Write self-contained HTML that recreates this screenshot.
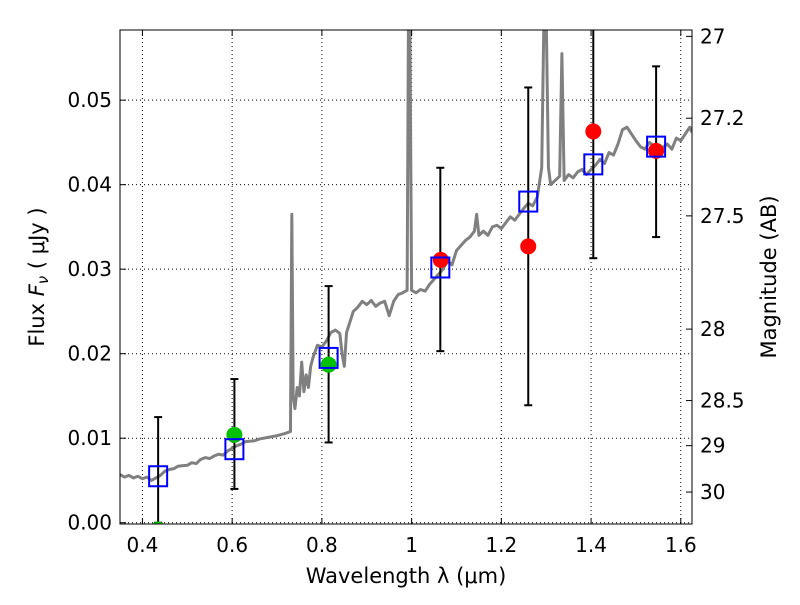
<!DOCTYPE html>
<html><head><meta charset="utf-8"><style>
body{margin:0;background:#fff;}
svg text{font-family:"DejaVu Sans","Liberation Sans",sans-serif;fill:#000;}
</style></head><body>
<svg id="chart" width="800" height="600" xmlns="http://www.w3.org/2000/svg">
<g id="grid"></g>
<g id="plot"></g>
<rect x="120" y="30" width="572" height="494" fill="none" stroke="#000" stroke-width="1"/>
<g id="axes"></g>
<text x="406" y="583" font-size="21" text-anchor="middle">Wavelength  λ (μm)</text>
<text transform="translate(44,277) rotate(-90)" font-size="21" text-anchor="middle">Flux  <tspan font-style="italic">F</tspan><tspan font-style="italic" font-size="15" dy="4">ν</tspan><tspan dy="-4">  ( μJy )</tspan></text>
<text transform="translate(776,277) rotate(-90)" font-size="21" text-anchor="middle">Magnitude (AB)</text>
</svg>
<script>
const specX=[0.35,0.36,0.37,0.38,0.39,0.40,0.41,0.42,0.43,0.44,0.45,0.46,0.47,0.48,0.5,0.51,0.52,0.53,0.54,0.55,0.56,0.57,0.58,0.59,0.6,0.61,0.62,0.63,0.65,0.66,0.68,0.7,0.72,0.73,0.733,0.736,0.74,0.745,0.75,0.755,0.76,0.765,0.77,0.775,0.78,0.79,0.8,0.81,0.82,0.83,0.84,0.845,0.85,0.855,0.87,0.88,0.89,0.9,0.91,0.92,0.93,0.94,0.95,0.96,0.97,0.98,0.99,0.993,0.996,1.0,1.01,1.02,1.03,1.04,1.05,1.06,1.07,1.08,1.09,1.1,1.11,1.12,1.13,1.14,1.145,1.15,1.16,1.17,1.18,1.19,1.2,1.21,1.22,1.23,1.24,1.25,1.26,1.27,1.28,1.29,1.295,1.3,1.305,1.31,1.32,1.33,1.335,1.34,1.35,1.36,1.37,1.38,1.39,1.4,1.41,1.42,1.43,1.44,1.45,1.46,1.47,1.48,1.49,1.5,1.51,1.52,1.53,1.54,1.55,1.56,1.57,1.58,1.59,1.6,1.61,1.62,1.625];
const specY=[0.0057,0.0054,0.0056,0.0053,0.0055,0.0052,0.0054,0.0050,0.0053,0.0056,0.0061,0.0063,0.0064,0.0067,0.0068,0.0071,0.0070,0.0075,0.0077,0.0076,0.0079,0.0081,0.0080,0.0085,0.0088,0.0091,0.0093,0.0096,0.0097,0.0099,0.0101,0.0103,0.0106,0.0108,0.0365,0.0150,0.0135,0.0160,0.0150,0.0190,0.0155,0.0175,0.0160,0.0185,0.0195,0.0210,0.0208,0.0215,0.0225,0.0228,0.0224,0.0200,0.0185,0.0225,0.0250,0.0255,0.0262,0.0258,0.0263,0.0256,0.0260,0.0262,0.0245,0.0262,0.0270,0.0272,0.0275,0.0600,0.0600,0.0275,0.0272,0.0276,0.0274,0.0282,0.0288,0.0294,0.0300,0.0310,0.0305,0.0322,0.0328,0.0334,0.0338,0.0345,0.0365,0.0340,0.0345,0.0340,0.0350,0.0352,0.0348,0.0355,0.0362,0.0358,0.0365,0.0372,0.0378,0.0375,0.0385,0.0420,0.0600,0.0600,0.0420,0.0400,0.0405,0.0410,0.0555,0.0405,0.0412,0.0408,0.0415,0.0418,0.0412,0.0418,0.0423,0.0430,0.0425,0.0438,0.0435,0.0448,0.0465,0.0468,0.0460,0.0452,0.0445,0.0442,0.0450,0.0446,0.0440,0.0444,0.0448,0.0442,0.0455,0.0452,0.0460,0.0468,0.0462,0.0458,0.0452];
const bandX=[0.435,0.605,0.815,1.064,1.26,1.405,1.545];
const modelY=[0.0055,0.0087,0.0195,0.0302,0.0380,0.0424,0.0445];
const errLo=[0.0,0.0040,0.0095,0.0203,0.0139,0.0313,0.0338];
const errHi=[0.0125,0.0170,0.0280,0.0420,0.0515,0.0600,0.0540];
const greenX=[0.435,0.605,0.815];
const greenY=[-0.0008,0.0104,0.0187];
const redX=[1.065,1.26,1.405,1.545];
const redY=[0.0311,0.0327,0.0463,0.0440];
const xTicks=[0.4,0.6,0.8,1.0,1.2,1.4,1.6];
const xTickLabels=["0.4","0.6","0.8","1","1.2","1.4","1.6"];
const yTicks=[0,0.01,0.02,0.03,0.04,0.05];
const yTickLabels=["0.00","0.01","0.02","0.03","0.04","0.05"];
const magTicks=[27,27.2,27.5,28,28.5,29,30];
const magTickLabels=["27","27.2","27.5","28","28.5","29","30"];

const L=120,R=692,T=30,B=524,x0=0.35,x1=1.625,y0=-0.00015,y1=0.0583;
const sx=v=>L+(v-x0)/(x1-x0)*(R-L);
const sy=v=>B-(v-y0)/(y1-y0)*(B-T);
const NS="http://www.w3.org/2000/svg";
function mk(tag,attrs,parent){const e=document.createElementNS(NS,tag);for(const k in attrs)e.setAttribute(k,attrs[k]);parent.appendChild(e);return e;}
const grid=document.getElementById('grid'),plot=document.getElementById('plot'),axes=document.getElementById('axes');
xTicks.forEach((t,i)=>{const x=sx(t);
 let g=mk('line',{x1:x,x2:x,y1:T,y2:B,stroke:'#000','stroke-dasharray':'1,3','stroke-width':1},grid);
 
 mk('line',{x1:x,x2:x,y1:B,y2:B-6,stroke:'#000'},axes);mk('line',{x1:x,x2:x,y1:T,y2:T+6,stroke:'#000'},axes);
 let tx=mk('text',{x:x,y:B+28,'font-size':20,'text-anchor':'middle'},axes);tx.textContent=xTickLabels[i];
 });
yTicks.forEach((t,i)=>{const y=sy(t);
 let g=mk('line',{x1:L,x2:R,y1:y,y2:y,stroke:'#000','stroke-dasharray':'1,3','stroke-width':1},grid);
 
 mk('line',{x1:L,x2:L+6,y1:y,y2:y,stroke:'#000'},axes);
 let tx=mk('text',{x:L-8,y:y+7,'font-size':20,'text-anchor':'end'},axes);tx.textContent=yTickLabels[i];
 });
magTicks.forEach((m,i)=>{const f=Math.pow(10,(23.9-m)/2.5);const y=Math.max(sy(f),T+2);
 mk('line',{x1:R,x2:R-6,y1:y,y2:y,stroke:'#000'},axes);
 let tx=mk('text',{x:R+8,y:y+7,'font-size':20,'text-anchor':'start'},axes);tx.textContent=magTickLabels[i];
 });
const clip=mk('clipPath',{id:'c'},plot);mk('rect',{x:L,y:T,width:R-L,height:B-T},clip);
const cg=mk('g',{'clip-path':'url(#c)'},plot);
let sp=mk('polyline',{points:specX.map((x,i)=>sx(x)+','+sy(specY[i])).join(' '),fill:'none',stroke:'#808080','stroke-width':3,'stroke-linejoin':'round'},cg);

bandX.forEach((x,i)=>{const px=sx(x);
 let e=mk('g',{},cg);
 mk('line',{x1:px,x2:px,y1:sy(errLo[i]),y2:sy(errHi[i]),stroke:'#000','stroke-width':2},e);
 mk('line',{x1:px-4,x2:px+4,y1:sy(errLo[i]),y2:sy(errLo[i]),stroke:'#000','stroke-width':2},e);
 mk('line',{x1:px-4,x2:px+4,y1:sy(errHi[i]),y2:sy(errHi[i]),stroke:'#000','stroke-width':2},e);});
greenX.forEach((x,i)=>{let c=mk('circle',{cx:sx(x),cy:sy(greenY[i]),r:8,fill:'#00c000'},cg);
 });
redX.forEach((x,i)=>{let c=mk('circle',{cx:sx(x),cy:sy(redY[i]),r:8,fill:'#ff0000'},cg);
 });
bandX.forEach((x,i)=>{let r=mk('rect',{x:sx(x)-9,y:sy(modelY[i])-10,width:18,height:20,fill:'none',stroke:'#0000ff','stroke-width':2},cg);
 });
</script>
</body></html>
